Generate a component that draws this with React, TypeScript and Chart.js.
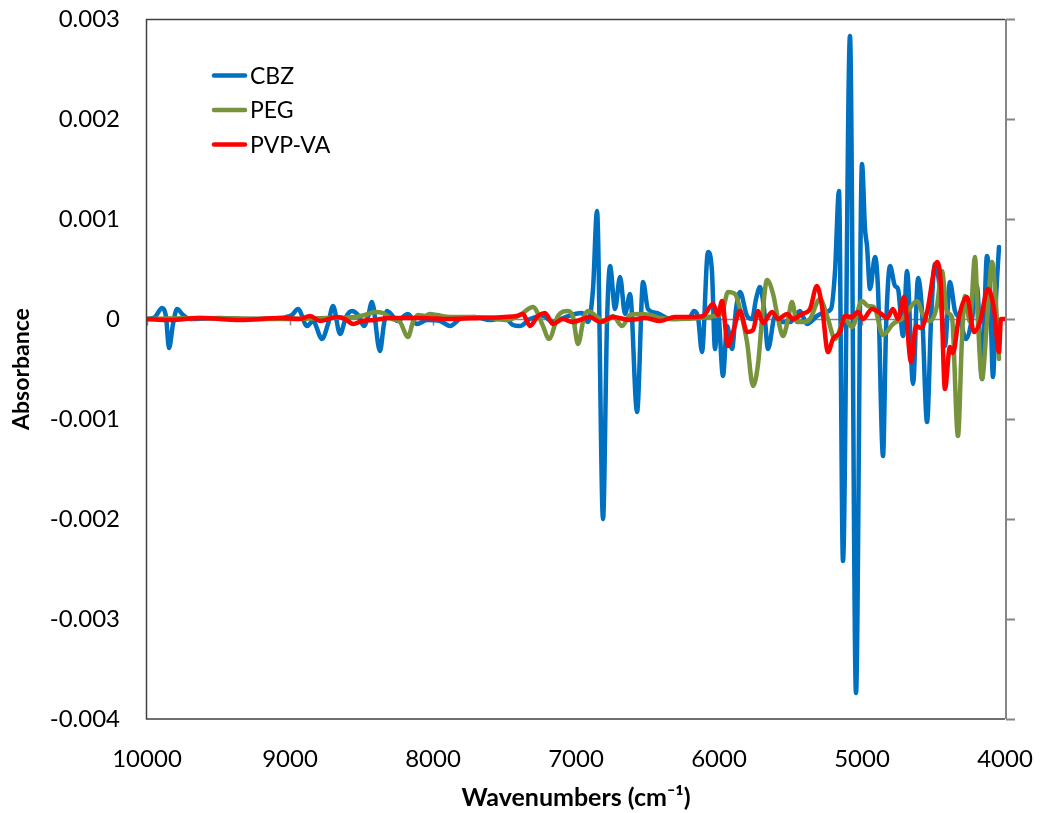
import React, { useEffect, useRef } from "react";
import { Chart, registerables } from "chart.js";

Chart.register(...registerables);

// [wavenumber (cm-1), absorbance]
const cbzSpectrum: [number, number][] = [
  [10000, 0], [9944, 0.00002], [9895, 0.00011], [9867, 0.00002], [9846, -0.00029], [9818, -0.00005],
  [9790, 0.0001], [9748, 0.00004], [9699, 0], [9490, 0.00001], [9280, 0], [9070, 0.00001],
  [8986, 0.00004], [8944, 0.0001], [8881, -0.00007], [8839, -0.00002], [8776, -0.0002], [8734, -0.00005],
  [8699, 0.00013], [8650, -0.00015], [8608, 0.00002], [8566, 0.00008], [8525, 0.00004], [8483, -0.00007],
  [8455, 0.00002], [8427, 0.00017], [8371, -0.00032], [8343, -0.00005], [8322, 0.00008], [8287, 0.00004],
  [8252, -0.00002], [8175, 0.00005], [8112, -0.00005], [8042, -0.00001], [7951, -0.00002], [7881, -0.00007],
  [7811, 0], [7706, 0.00002], [7601, -0.00001], [7497, 0.00001], [7441, -0.00006], [7392, -0.00007],
  [7322, 0], [7231, 0.00003], [7161, -0.00003], [7091, 0.00001], [7007, 0.00005], [6958, 0.00006],
  [6916, -0.00003], [6881, 0.0003], [6853, 0.00108], [6811, -0.002], [6783, -0.00003], [6762, 0.00053],
  [6727, 0.0001], [6692, 0.00042], [6657, 0.00005], [6622, 0.00025], [6573, -0.00093], [6531, 0.00037],
  [6497, 0.0001], [6434, 0.00006], [6392, 0.00003], [6343, 0], [6203, 0.00002], [6175, 0.00008],
  [6147, 0.00002], [6119, -0.00033], [6077, 0.00067], [6049, 0.00047], [6028, -0.0003], [6007, 0.00007],
  [5972, -0.00057], [5944, -0.00007], [5909, -0.0003], [5881, 0.0001], [5853, 0.00027], [5804, 0.00003],
  [5769, 0], [5741, 0.0002], [5713, 0.00032], [5685, 0.0001], [5657, -0.0003], [5608, 0.00003],
  [5559, -0.00003], [5503, -0.00003], [5434, 0.00008], [5385, -0.00005], [5315, 0.00003], [5259, 0.00007],
  [5217, 0.0001], [5189, 0.00047], [5161, 0.00128], [5133, -0.00242], [5084, 0.00283], [5042, -0.00374],
  [5000, 0.00155], [4979, 0.0009], [4965, 0.00073], [4944, 0.0003], [4909, 0.00062], [4888, 0.0003],
  [4853, -0.00137], [4832, -0.0001], [4804, 0.00053], [4769, 0.00033], [4748, 0.0003], [4713, -0.00017],
  [4685, 0.00048], [4643, -0.00065], [4608, 0.00041], [4580, 0.00007], [4545, -0.00103], [4517, 0],
  [4490, 0.00055], [4455, 0.0003], [4420, -0.00027], [4385, 0.00037], [4350, 0.00008], [4315, 0],
  [4273, -0.0002], [4231, 0], [4196, 0.00033], [4161, -0.0006], [4126, 0.00063], [4105, 0.0003],
  [4084, -0.00058], [4063, 0.0002], [4042, 0.00072],
];

const pegSpectrum: [number, number][] = [
  [10000, 0], [9629, 0.00001], [9070, 0], [8720, 0.00001], [8545, 0.00002], [8476, 0.00004],
  [8406, 0.00007], [8350, 0.00006], [8287, 0], [8231, -0.00003], [8175, -0.00018], [8140, -0.00003],
  [8105, 0.00004], [8056, 0.00003], [8021, 0.00005], [7972, 0.00004], [7881, 0.00002], [7741, 0.00002],
  [7601, 0.00001], [7483, -0.00001], [7392, 0.00004], [7301, 0.00012], [7231, -0.00007], [7189, -0.0002],
  [7126, 0.00003], [7056, 0.00008], [7021, 0.00002], [6986, -0.00025], [6944, 0.00002], [6916, 0.00008],
  [6853, 0.00002], [6797, -0.00003], [6741, 0.00003], [6678, -0.00007], [6622, 0.00004], [6552, 0.00005],
  [6483, 0.00004], [6413, 0.00001], [6273, 0], [6133, 0.00001], [6028, 0.00003], [5979, 0.00006],
  [5937, 0.00027], [5888, 0.00025], [5846, 0.00006], [5804, -0.00023], [5762, -0.00067], [5727, -0.00045],
  [5699, 0], [5664, 0.00039], [5622, 0.00025], [5587, 0], [5552, -0.00017], [5517, 0],
  [5490, 0.00017], [5455, -0.00003], [5406, -0.00003], [5364, 0], [5294, 0.0002], [5238, 0],
  [5189, -0.0002], [5119, 0], [5070, -0.00008], [5000, 0.00018], [4958, 0.00013], [4916, 0.00012],
  [4853, -0.00016], [4783, -0.00005], [4713, 0.00001], [4615, 0.00018], [4573, 0.00004], [4524, -0.00002],
  [4476, 0.00013], [4441, 0.00048], [4406, 0.00007], [4371, 0.00002], [4329, -0.00117], [4301, -0.0002],
  [4280, 0.00023], [4245, -0.00003], [4210, 0.00062], [4189, -0.00003], [4161, -0.0006], [4126, -0.00003],
  [4091, 0.00057], [4070, 0.0003], [4042, -0.0004],
];

const pvpvaSpectrum: [number, number][] = [
  [10000, 0], [9839, -0.00001], [9629, 0.00001], [9350, -0.00001], [9070, 0.00001], [8930, 0],
  [8860, 0.00003], [8790, -0.00002], [8671, 0.00002], [8615, 0], [8559, -0.00005], [8497, -0.00002],
  [8406, -0.00001], [8301, 0.00001], [8091, 0.00001], [7881, 0], [7671, 0.00001], [7497, 0.00002],
  [7413, 0.00003], [7371, 0.00005], [7322, -0.00007], [7266, 0.00003], [7217, 0.00006], [7161, -0.00005],
  [7091, 0], [7028, -0.00003], [6972, -0.00001], [6902, 0.00002], [6832, -0.00003], [6741, 0.00002],
  [6622, -0.00001], [6517, 0.00001], [6413, -0.00002], [6308, 0.00002], [6182, 0.00002], [6112, 0.00003],
  [6042, 0.00015], [6007, 0.00004], [5979, 0.00018], [5937, -0.00027], [5902, -0.00013], [5853, 0.00008],
  [5804, -0.00013], [5762, -0.00011], [5727, 0.00008], [5692, -0.00004], [5629, 0.00007], [5587, 0],
  [5524, 0.00005], [5483, 0], [5420, 0.00005], [5364, 0.0001], [5315, 0.00033], [5280, 0.00013],
  [5238, -0.00033], [5203, -0.0002], [5154, -0.00013], [5119, 0.00003], [5070, 0.00002], [5028, 0.00007],
  [4993, 0], [4930, 0.0001], [4874, 0.00006], [4825, 0.00001], [4783, 0.0001], [4748, 0],
  [4706, 0.00022], [4657, -0.00043], [4622, -0.00007], [4587, -0.00009], [4545, 0.00007], [4476, 0.00057],
  [4448, 0.00033], [4420, -0.0007], [4385, -0.00028], [4364, -0.00034], [4322, 0.00002], [4266, 0.00022],
  [4217, -0.00013], [4175, -0.00003], [4119, 0.0003], [4077, 0.0001], [4042, -0.00033], [4028, 0],
  [4000, 0],
];

const seriesNames = ["CBZ", "PEG", "PVP-VA"];
const seriesColors = ["#0070C0", "#77933C", "#FF0000"];
const xTickValues = [10000, 9000, 8000, 7000, 6000, 5000, 4000];
const yTickValues = [0.003, 0.002, 0.001, 0, -0.001, -0.002, -0.003, -0.004];

const FONT = "Lato, 'Open Sans', sans-serif";

function zeroPadding(scale: any) {
  scale.paddingTop = 0;
  scale.paddingBottom = 0;
  scale.paddingLeft = 0;
  scale.paddingRight = 0;
}

export default function App() {
  const canvasRef = useRef<HTMLCanvasElement>(null);

  useEffect(() => {
    const canvas = canvasRef.current;
    if (!canvas) return;

    const framePlugin = {
      id: "frame",
      beforeDatasetsDraw(chart: any) {
        const { ctx, chartArea: a, scales } = chart;
        const y0 = Math.round(scales.y.getPixelForValue(0)) + 0.5;
        ctx.save();
        ctx.strokeStyle = "#868686";
        ctx.lineWidth = 1.5;
        ctx.beginPath();
        ctx.moveTo(a.left, y0);
        ctx.lineTo(a.right, y0);
        for (const v of xTickValues) {
          const px = Math.round(scales.x.getPixelForValue(v)) + 0.5;
          ctx.moveTo(px, y0);
          ctx.lineTo(px, y0 + 6);
        }
        ctx.stroke();
        ctx.restore();
      },
      afterDatasetsDraw(chart: any) {
        const { ctx, chartArea: a, scales } = chart;
        ctx.save();
        // right vertical axis with outward ticks
        ctx.strokeStyle = "#868686";
        ctx.lineWidth = 2;
        ctx.beginPath();
        ctx.moveTo(a.right + 1, a.top);
        ctx.lineTo(a.right + 1, a.bottom);
        for (const v of yTickValues) {
          const py = Math.round(scales.y.getPixelForValue(v)) + 0.5;
          ctx.moveTo(a.right + 1, py);
          ctx.lineTo(a.right + 10, py);
        }
        ctx.stroke();
        // plot frame (top, left, bottom)
        ctx.strokeStyle = "#404040";
        ctx.lineWidth = 1.5;
        ctx.beginPath();
        ctx.moveTo(a.right, a.top + 0.5);
        ctx.lineTo(a.left - 0.5, a.top + 0.5);
        ctx.lineTo(a.left - 0.5, a.bottom);
        ctx.lineTo(a.right, a.bottom);
        ctx.stroke();

        // legend
        const legendY = [75.5, 110, 144.5];
        ctx.lineCap = "round";
        ctx.lineWidth = 4.5;
        ctx.font = `23px ${FONT}`;
        ctx.textBaseline = "middle";
        ctx.textAlign = "left";
        chart.data.datasets.forEach((ds: any, i: number) => {
          const y = legendY[i];
          ctx.strokeStyle = ds.borderColor;
          ctx.beginPath();
          ctx.moveTo(214, y);
          ctx.lineTo(245, y);
          ctx.stroke();
          ctx.fillStyle = "#000";
          ctx.fillText(ds.label, 250, y + 1);
        });
        ctx.restore();
      },
    };

    const spectra = [cbzSpectrum, pegSpectrum, pvpvaSpectrum];

    const chart = new Chart(canvas, {
      type: "line",
      data: {
        datasets: spectra.map((s, i) => ({
          label: seriesNames[i],
          data: s.map(([x, y]) => ({ x, y })),
          borderColor: seriesColors[i],
          backgroundColor: seriesColors[i],
          borderWidth: 4.5,
          pointRadius: 0,
          pointHoverRadius: 0,
          cubicInterpolationMode: "monotone" as const,
          borderCapStyle: "round" as const,
          borderJoinStyle: "round" as const,
          fill: false,
          order: 3 - i,
        })),
      },
      options: {
        responsive: false,
        animation: false,
        devicePixelRatio: 1,
        events: [],
        layout: { padding: { left: 0, right: 37, top: 19, bottom: 0 } },
        plugins: {
          legend: { display: false },
          tooltip: { enabled: false },
        },
        scales: {
          x: {
            type: "linear",
            reverse: true,
            min: 4000,
            max: 10000,
            afterFit: (scale: any) => {
              scale.height = 94;
              zeroPadding(scale);
            },
            afterBuildTicks: (scale: any) => {
              scale.ticks = xTickValues.map((v) => ({ value: v }));
            },
            grid: { display: false, drawTicks: false },
            border: { display: false },
            ticks: {
              padding: 26,
              maxRotation: 0,
              autoSkip: false,
              color: "#000",
              font: { family: FONT, size: 24 },
              callback: (v: any) => String(v),
            },
            title: {
              display: true,
              text: "Wavenumbers (cm⁻¹)",
              color: "#000",
              font: { family: FONT, size: 25, weight: "bold" },
              padding: { top: 0, bottom: 0 },
            },
          },
          y: {
            type: "linear",
            min: -0.004,
            max: 0.003,
            afterFit: (scale: any) => {
              scale.width = 147;
              zeroPadding(scale);
            },
            afterBuildTicks: (scale: any) => {
              scale.ticks = yTickValues.map((v) => ({ value: v }));
            },
            grid: { display: false, drawTicks: false },
            border: { display: false },
            ticks: {
              padding: 27,
              color: "#000",
              font: { family: FONT, size: 24 },
              callback: (v: any) => String(Number(Number(v).toFixed(3))),
            },
            title: {
              display: true,
              text: "Absorbance",
              color: "#000",
              font: { family: FONT, size: 23, weight: "bold" },
              padding: { top: 8, bottom: 0 },
            },
          },
        },
      },
      plugins: [framePlugin],
    });

    return () => chart.destroy();
  }, []);

  return (
    <div style={{ position: "absolute", left: 0, top: 0, width: 1042, height: 813, background: "#fff" }}>
      <canvas ref={canvasRef} width={1042} height={813} style={{ display: "block", width: 1042, height: 813 }} />
    </div>
  );
}
